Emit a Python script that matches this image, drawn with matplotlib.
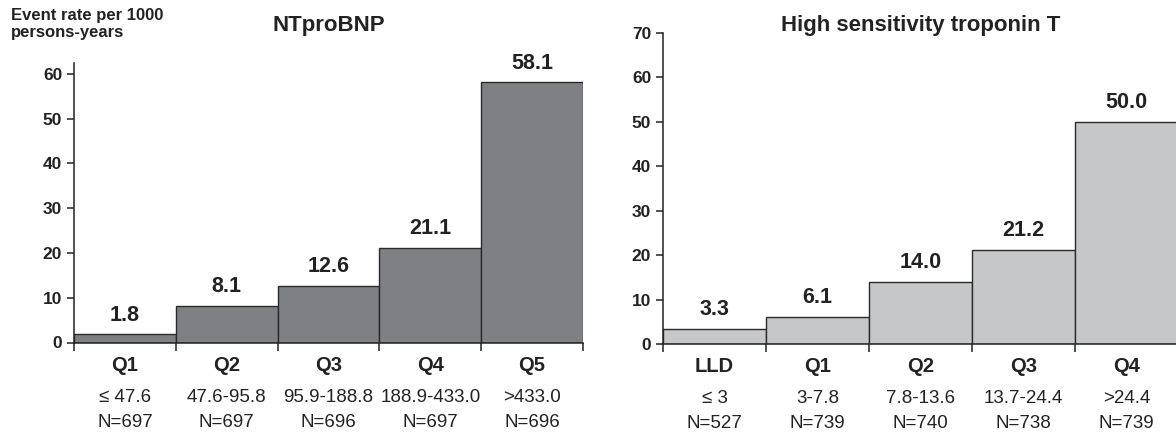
import numpy as np
import matplotlib.pyplot as plt
from matplotlib.transforms import blended_transform_factory, offset_copy

plt.rcParams['font.family'] = ['Liberation Sans', 'DejaVu Sans']

# NTproBNP
bnp_cat = ['Q1', 'Q2', 'Q3', 'Q4', 'Q5']
bnp_rango = ['\u2264 47.6', '47.6-95.8', '95.9-188.8', '188.9-433.0', '>433.0']
bnp_n = ['N=697', 'N=697', 'N=696', 'N=697', 'N=696']
bnp_tasa = [1.8, 8.1, 12.6, 21.1, 58.1]

# Troponina T de alta sensibilidad
tnt_cat = ['LLD', 'Q1', 'Q2', 'Q3', 'Q4']
tnt_rango = ['\u2264 3', '3-7.8', '7.8-13.6', '13.7-24.4', '>24.4']
tnt_n = ['N=527', 'N=739', 'N=740', 'N=738', 'N=739']
tnt_tasa = [3.3, 6.1, 14.0, 21.2, 50.0]

fig = plt.figure(figsize=(11.76, 4.33), dpi=100)
W, H = 1176, 433

ax1 = fig.add_axes([74 / W, 1 - 342.5 / H, 509 / W, 279.7 / H])
ax2 = fig.add_axes([663 / W, 1 - 344 / H, 515 / W, 311 / H])


def dibujar(ax, cats, rangos, ns, tasas, color, ymax, yticks, titulo):
    x = np.arange(len(tasas))
    ax.bar(x, tasas, width=1, align='edge', color=color,
           edgecolor='#2a2a2a', linewidth=1.0)
    ax.set_xlim(0, len(tasas))
    ax.set_ylim(0, ymax)
    ax.set_yticks(yticks)
    ax.set_xticks(np.arange(len(tasas) + 1))
    ax.tick_params(axis='x', direction='out', length=6, width=1.1,
                   labelbottom=False, color='#222222')
    ax.tick_params(axis='y', direction='out', length=5, width=1.1,
                   pad=3.5, labelsize=12.5, color='#222222')
    for lab in ax.get_yticklabels():
        lab.set_fontweight('bold')
        lab.set_color('#222222')
    for s in ['top', 'right']:
        ax.spines[s].set_visible(False)
    for s in ['left', 'bottom']:
        ax.spines[s].set_linewidth(1.1)
        ax.spines[s].set_color('#222222')

    # valores sobre las barras
    for xi, v in zip(x, tasas):
        ax.annotate(f'{v:.1f}', (xi + 0.5, v), xytext=(0, 10),
                    textcoords='offset points', ha='center', va='baseline',
                    fontsize=15.5, fontweight='bold', color='#222222')

    # etiquetas bajo el eje
    tr = blended_transform_factory(ax.transData, ax.transAxes)
    for xi, c, r, n in zip(x, cats, rangos, ns):
        ax.text(xi + 0.5, 0, c, transform=offset_copy(tr, fig, y=-20.5, units='points'),
                ha='center', va='baseline', fontsize=14.5, fontweight='bold',
                color='#222222')
        ax.text(xi + 0.5, 0, r, transform=offset_copy(tr, fig, y=-42.8, units='points'),
                ha='center', va='baseline', fontsize=13.5, color='#222222')
        ax.text(xi + 0.5, 0, n, transform=offset_copy(tr, fig, y=-60.8, units='points'),
                ha='center', va='baseline', fontsize=13.5, color='#222222')

    bb = ax.get_position()
    fig.text((bb.x0 + bb.x1) / 2, 1 - 31 / H, titulo, ha='center', va='baseline',
             fontsize=16, fontweight='bold', color='#222222')


dibujar(ax1, bnp_cat, bnp_rango, bnp_n, bnp_tasa, '#7f8084', 62.5,
        np.arange(0, 61, 10), 'NTproBNP')
dibujar(ax2, tnt_cat, tnt_rango, tnt_n, tnt_tasa, '#c6c7c9', 70,
        np.arange(0, 71, 10), 'High sensitivity troponin T')

fig.text(11 / W, 1 - 8 / H, 'Event rate per 1000\npersons-years', ha='left', va='top',
         fontsize=12, fontweight='bold', color='#222222', linespacing=1.2)

fig.savefig('out.png', dpi=100)
